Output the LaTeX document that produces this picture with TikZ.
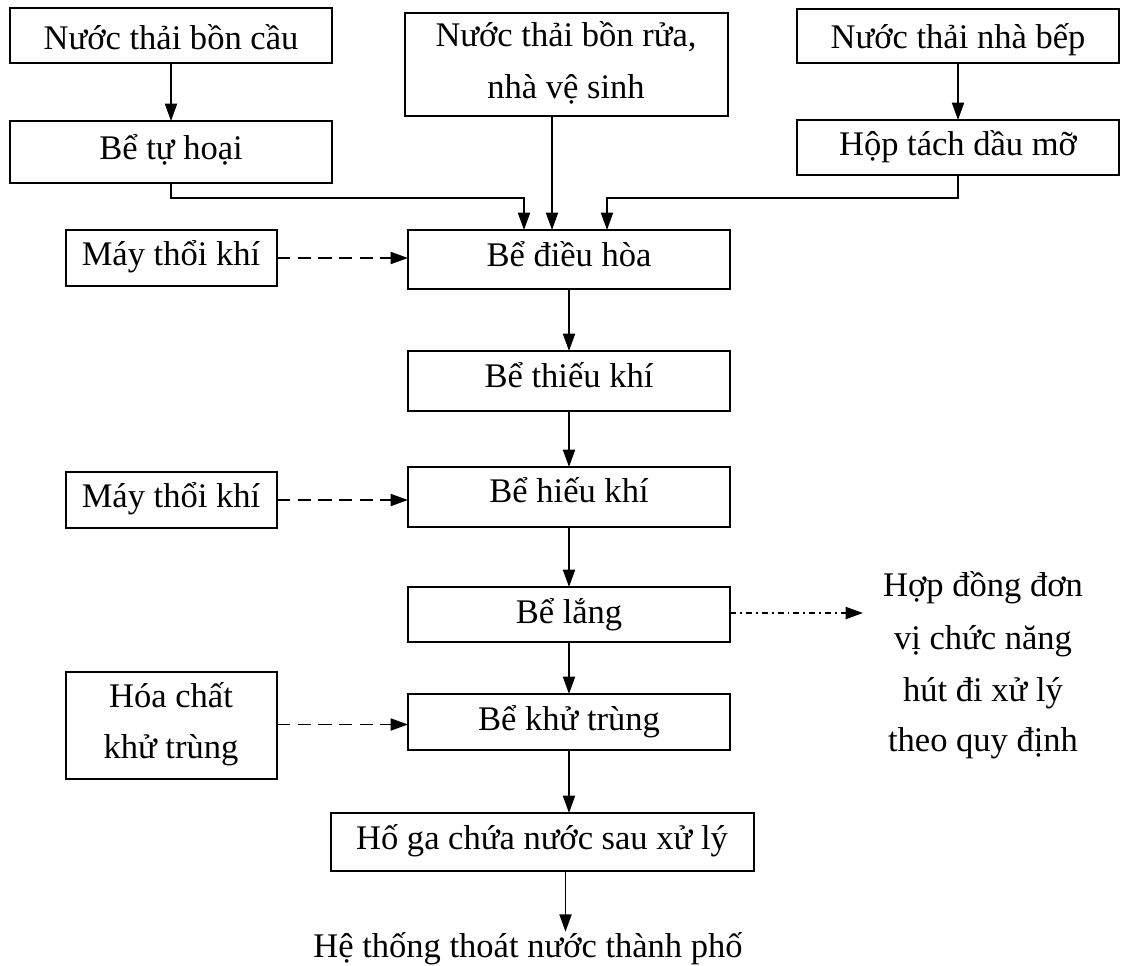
\documentclass[tikz,border=0pt]{standalone}
\usepackage{fontspec}
\setmainfont{Liberation Serif}
\usetikzlibrary{arrows.meta,fit,calc}

\begin{document}
\begin{tikzpicture}[
  x=0.75pt, y=-0.75pt,
  box/.style={draw, line width=1.7pt, inner sep=0pt, outer sep=0pt},
  lbl/.style={inner sep=0pt, anchor=base, font=\fontsize{25.9pt}{39pt}\selectfont},
  flow/.style={line width=1.4pt, -{Triangle[length=13pt,width=9pt]}},
  air/.style={flow, dash pattern=on 10pt off 5.5pt},
  sludge/.style={flow, dash pattern=on 4.5pt off 3pt on 1.4pt off 3pt},
]
\useasboundingbox (0,0) rectangle (1121,965);

% --- incoming wastewater sources ---
\node[box, fit={(10,8) (332,63)}] (toilet) {};
\node[lbl] (toiletT) at (171,49) {Nước thải bồn cầu};

\node[box, fit={(10,121) (332,183)}] (septic) {};
\node[lbl] (septicT) at (171,159) {Bể tự hoại};

\node[box, fit={(405,13) (728,116)}] (sink) {};
\node[lbl] (sinkT1) at (566,46) {Nước thải bồn rửa,};
\node[lbl] (sinkT2) at (566,98) {nhà vệ sinh};

\node[box, fit={(797,9) (1119,63)}] (kitchen) {};
\node[lbl] (kitchenT) at (958,48) {Nước thải nhà bếp};

\node[box, fit={(797,120) (1119,175)}] (grease) {};
\node[lbl] (greaseT) at (958,155) {Hộp tách dầu mỡ};

% --- treatment line ---
\node[box, fit={(408,230) (730,289)}] (equal) {};
\node[lbl] (equalT) at (569,266) {Bể điều hòa};

\node[box, fit={(408,351) (730,411)}] (anox) {};
\node[lbl] (anoxT) at (569,387) {Bể thiếu khí};

\node[box, fit={(408,467) (730,527)}] (aero) {};
\node[lbl] (aeroT) at (569,502) {Bể hiếu khí};

\node[box, fit={(408,587) (730,642)}] (settle) {};
\node[lbl] (settleT) at (569,623) {Bể lắng};

\node[box, fit={(408,694) (730,750)}] (disinf) {};
\node[lbl] (disinfT) at (569,730) {Bể khử trùng};

\node[box, fit={(331,813) (754,871)}] (pit) {};
\node[lbl] (pitT) at (542,849) {Hố ga chứa nước sau xử lý};

\node[lbl] (city) at (528,957) {Hệ thống thoát nước thành phố};

% --- auxiliary inputs ---
\node[box, fit={(66,230) (277,286)}] (blower1) {};
\node[lbl] (blower1T) at (171,265) {Máy thổi khí};

\node[box, fit={(66,472) (277,528)}] (blower2) {};
\node[lbl] (blower2T) at (171,507) {Máy thổi khí};

\node[box, fit={(66,672) (277,779)}] (chem) {};
\node[lbl] (chemT1) at (171,707) {Hóa chất};
\node[lbl] (chemT2) at (171,758) {khử trùng};

% --- sludge disposal note ---
\node[lbl] (sl1) at (983,596) {Hợp đồng đơn};
\node[lbl] (sl2) at (983,649) {vị chức năng};
\node[lbl] (sl3) at (983,701) {hút đi xử lý};
\node[lbl] (sl4) at (983,751) {theo quy định};

% --- flows ---
\draw[flow] (toilet.south) -- (septic.north);
\draw[flow] (kitchen.south) -- (grease.north);
\draw[flow] (septic.south) -- ++(0,15) -| ($(equal.north west)+(116,0)$);
\draw[flow] ($(sink.south)+(-14.5,0)$) -- ($(equal.north west)+(144,0)$);
\draw[flow] (grease.south) -- ++(0,23) -| ($(equal.north west)+(199,0)$);

\draw[flow] (equal.south) -- (anox.north);
\draw[flow] (anox.south) -- (aero.north);
\draw[flow] (aero.south) -- (settle.north);
\draw[flow] (settle.south) -- (disinf.north);
\draw[flow] (disinf.south) -- (disinf.south |- pit.north);
\coordinate (pitOut) at ($(pit.south)+(23,0)$);
\draw[flow] (pitOut) -- (pitOut |- city.north);

\draw[air] (blower1.east) -- (blower1.east -| equal.west);
\draw[air] (blower2.east) -- (blower2.east -| aero.west);
\draw[air] ($(chem.east)+(0,-1)$) -- ($(chem.east -| disinf.west)+(0,-1)$);

\coordinate (sludgeEnd) at ($(settle.east)+(133,-1.5)$);
\draw[sludge] ($(settle.east)+(0,-1.5)$) -- (sludgeEnd);
\end{tikzpicture}
\end{document}
